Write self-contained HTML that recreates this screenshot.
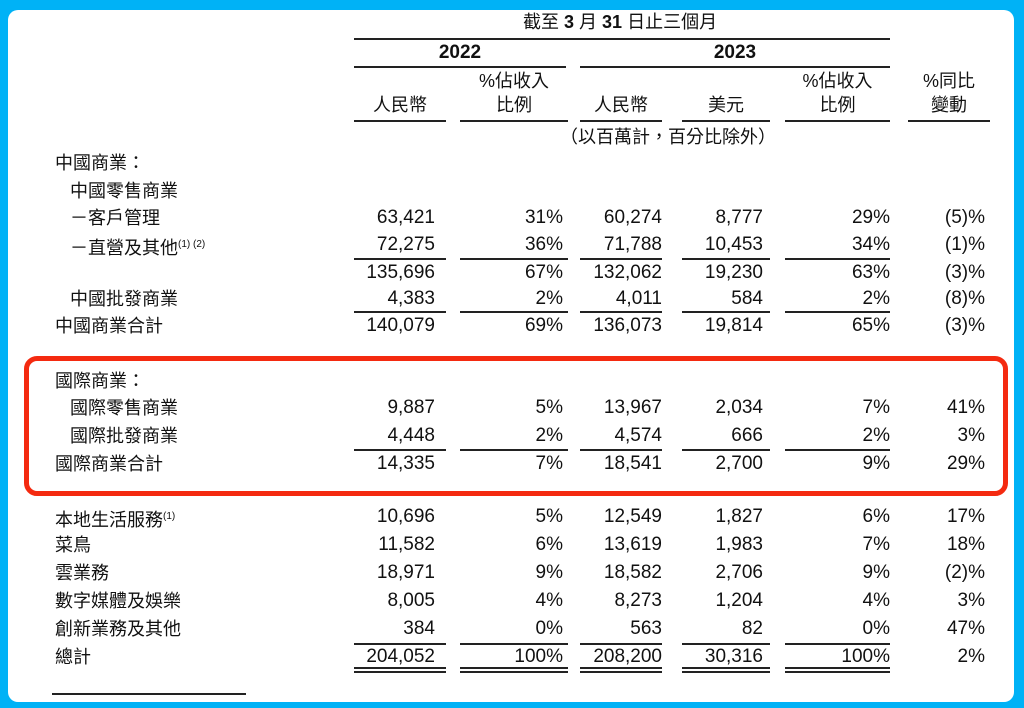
<!DOCTYPE html>
<html><head><meta charset="utf-8"><style>
html,body{margin:0;padding:0}
body{width:1024px;height:708px;background:#00b2f6;position:relative;overflow:hidden;font-family:"Liberation Sans","Noto Sans CJK TC",sans-serif;color:#111}
#w{position:absolute;left:8px;top:10px;width:1006px;height:692px;background:#fff;border-radius:10px}
.t{position:absolute;font-size:19px;line-height:22px;white-space:nowrap}
.r{text-align:right}
.l{position:absolute;height:1.5px;background:#222}
.c{position:absolute;font-size:18px;line-height:22px;white-space:nowrap}
#red{position:absolute;left:24px;top:356px;width:974px;height:130px;border:5px solid #f42a10;border-radius:13px}
sup{font-size:10px}
</style></head><body>
<div id="w"></div>
<div id="red"></div>

<div class="c" style="left:523px;top:11px;">截至 <b>3</b> 月 <b>31</b> 日止三個月</div>
<div class="l" style="left:354px;width:536px;top:38px"></div>
<div class="t" style="left:354px;width:212px;top:42px;text-align:center;font-weight:bold">2022</div>
<div class="t" style="left:580px;width:310px;top:42px;text-align:center;font-weight:bold">2023</div>
<div class="l" style="left:354px;width:212px;top:66px"></div>
<div class="l" style="left:580px;width:310px;top:66px"></div>

<div class="c" style="left:354px;width:92px;top:94px;text-align:center">人民幣</div>
<div class="c" style="left:460px;width:108px;top:70px;text-align:center">%佔收入</div>
<div class="c" style="left:460px;width:108px;top:94px;text-align:center">比例</div>
<div class="c" style="left:580px;width:82px;top:94px;text-align:center">人民幣</div>
<div class="c" style="left:682px;width:88px;top:94px;text-align:center">美元</div>
<div class="c" style="left:785px;width:105px;top:70px;text-align:center">%佔收入</div>
<div class="c" style="left:785px;width:105px;top:94px;text-align:center">比例</div>
<div class="c" style="left:908px;width:82px;top:70px;text-align:center">%同比</div>
<div class="c" style="left:908px;width:82px;top:94px;text-align:center">變動</div>
<div class="l" style="left:354px;width:92px;top:120px"></div>
<div class="l" style="left:460px;width:108px;top:120px"></div>
<div class="l" style="left:580px;width:82px;top:120px"></div>
<div class="l" style="left:682px;width:88px;top:120px"></div>
<div class="l" style="left:785px;width:105px;top:120px"></div>
<div class="l" style="left:908px;width:82px;top:120px"></div>
<div class="c" style="left:560px;top:126px">（以百萬計，百分比除外）</div>

<div class="c" style="left:55px;top:152px">中國商業：</div>
<div class="c" style="left:70px;top:180px">中國零售商業</div>
<div class="c" style="left:70px;top:207px">－客戶管理</div>
<div class="c" style="left:70px;top:234px">－直營及其他<sup>(1) (2)</sup></div>
<div class="c" style="left:70px;top:288px">中國批發商業</div>
<div class="c" style="left:55px;top:315px">中國商業合計</div>
<div class="c" style="left:55px;top:370px">國際商業：</div>
<div class="c" style="left:70px;top:397px">國際零售商業</div>
<div class="c" style="left:70px;top:425px">國際批發商業</div>
<div class="c" style="left:55px;top:453px">國際商業合計</div>
<div class="c" style="left:55px;top:506px">本地生活服務<sup>(1)</sup></div>
<div class="c" style="left:55px;top:534px">菜鳥</div>
<div class="c" style="left:55px;top:562px">雲業務</div>
<div class="c" style="left:55px;top:590px">數字媒體及娛樂</div>
<div class="c" style="left:55px;top:618px">創新業務及其他</div>
<div class="c" style="left:55px;top:646px">總計</div>

<div id="nums"></div>
<script>
var rows=[
[207,"63,421","31%","60,274","8,777","29%","(5)%"],
[234,"72,275","36%","71,788","10,453","34%","(1)%"],
[262,"135,696","67%","132,062","19,230","63%","(3)%"],
[288,"4,383","2%","4,011","584","2%","(8)%"],
[315,"140,079","69%","136,073","19,814","65%","(3)%"],
[397,"9,887","5%","13,967","2,034","7%","41%"],
[425,"4,448","2%","4,574","666","2%","3%"],
[453,"14,335","7%","18,541","2,700","9%","29%"],
[506,"10,696","5%","12,549","1,827","6%","17%"],
[534,"11,582","6%","13,619","1,983","7%","18%"],
[562,"18,971","9%","18,582","2,706","9%","(2)%"],
[590,"8,005","4%","8,273","1,204","4%","3%"],
[618,"384","0%","563","82","0%","47%"],
[646,"204,052","100%","208,200","30,316","100%","2%"]];
var R=[435,563,662,763,890,985];
var h="";
rows.forEach(function(r){for(var i=0;i<6;i++){h+='<div class="t r" style="right:'+(1024-R[i])+'px;top:'+r[0]+'px">'+r[i+1]+'</div>';}});
var L=[[354,92],[460,108],[580,82],[682,88],[785,105]];
[258,311,449,643,667,671].forEach(function(y){L.forEach(function(s){h+='<div class="l" style="left:'+s[0]+'px;width:'+s[1]+'px;top:'+y+'px"></div>';});});
h+='<div class="l" style="left:52px;width:194px;top:693px"></div>';
document.getElementById("nums").innerHTML=h;
</script>
</body></html>
